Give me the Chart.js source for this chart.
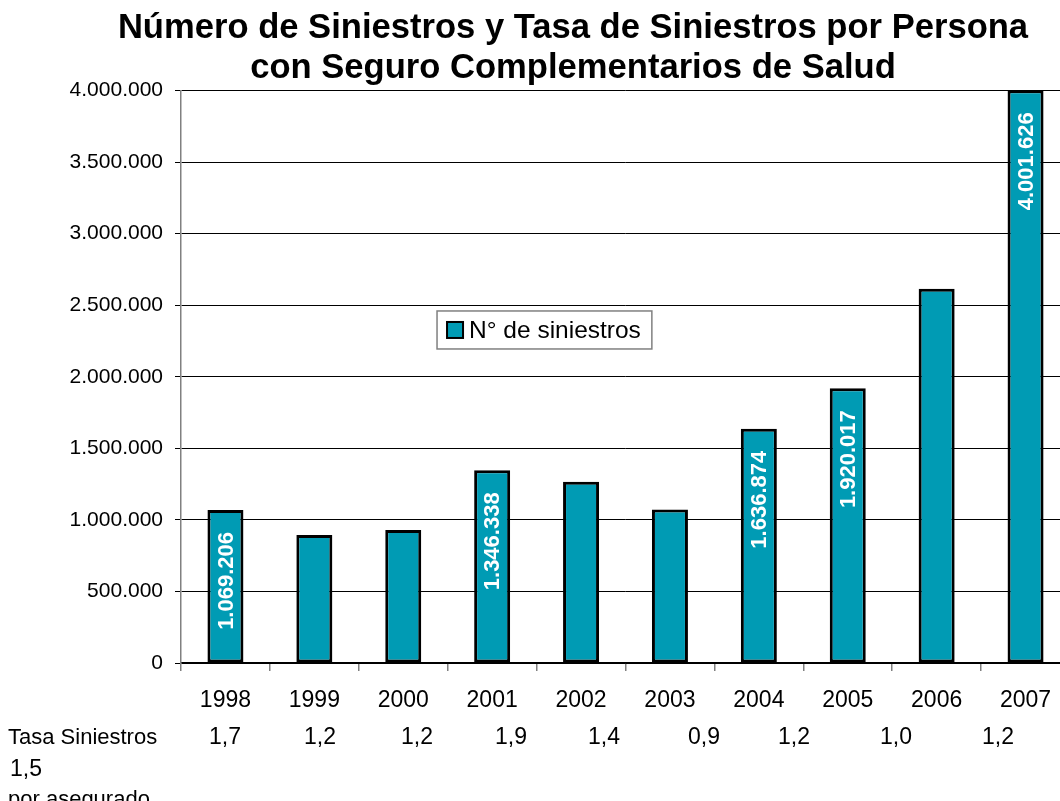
<!DOCTYPE html>
<html>
<head>
<meta charset="utf-8">
<script src="https://cdn.jsdelivr.net/npm/chart.js@4.4.1/dist/chart.umd.min.js"></script>
<style>
  html, body { margin: 0; padding: 0; background: #fff; overflow: hidden; }
  #wrap { position: relative; width: 1136px; height: 801px; }
</style>
</head>
<body>
<div id="wrap"><canvas id="c" width="1136" height="801"></canvas></div>
<script>
// ---- data ----
const years = ['1998','1999','2000','2001','2002','2003','2004','2005','2006','2007'];
const siniestros = [1069206, 895000, 930000, 1346338, 1266000, 1072000, 1636874, 1920017, 2615000, 4001626];
const labeledYears = ['1998','2001','2004','2005','2007'];
const tasaTitle = 'Tasa Siniestros';
const tasaValues = ['1,7','1,2','1,2','1,9','1,4','0,9','1,2','1,0','1,2','1,5'];
const tasaFooter = 'por asegurado';
const yTicks = [0, 500000, 1000000, 1500000, 2000000, 2500000, 3000000, 3500000, 4000000];
const titleLines = ['Número de Siniestros y Tasa de Siniestros por Persona', 'con Seguro Complementarios de Salud'];
const seriesName = 'N° de siniestros';

// ---- layout (text positions) ----
const tasaX = [209, 304, 401, 495, 588, 688, 778, 880, 982];
const TITLE_CX = 573;

const FONT = "'Liberation Sans', Arial, Helvetica, sans-serif";
Chart.defaults.font.family = FONT;
Chart.defaults.color = '#000';

function fmt(n) {
  return String(Math.round(n)).replace(/\B(?=(\d{3})+(?!\d))/g, '.');
}

const TEAL = '#009BB4';

const overlay = {
  id: 'overlay',
  afterDatasetsDraw(chart) {
    const ctx = chart.ctx;
    const meta = chart.getDatasetMeta(0);
    const ys = chart.scales.y;
    // title (space reserved by the title plugin)
    const tb = chart.titleBlock;
    ctx.save();
    ctx.fillStyle = '#000';
    ctx.font = 'bold 34.6px ' + FONT;
    ctx.textAlign = 'center';
    ctx.textBaseline = 'middle';
    const lh = 40.5;
    titleLines.forEach((t, i) => ctx.fillText(t, TITLE_CX, tb.top + 6 + lh * i + lh / 2 + 2));
    ctx.restore();

    // bar value labels (rotated, inside end)
    ctx.save();
    ctx.fillStyle = '#fff';
    ctx.font = 'bold 22px ' + FONT;
    ctx.textAlign = 'right';
    ctx.textBaseline = 'middle';
    meta.data.forEach((bar, i) => {
      if (!labeledYears.includes(years[i])) return;
      ctx.save();
      ctx.translate(bar.x, bar.y + 22);
      ctx.rotate(-Math.PI / 2);
      ctx.fillText(fmt(siniestros[i]), 0, 1);
      ctx.restore();
    });
    ctx.restore();

    // legend box
    const ca = chart.chartArea;
    const lx = ca.left + 0.288 * (ca.right - ca.left);
    const ly = ys.getPixelForValue(2460000);
    ctx.save();
    ctx.font = '24.5px ' + FONT;
    const tw = ctx.measureText(seriesName).width;
    const w = tw + 43, h = 38;
    ctx.fillStyle = '#fff';
    ctx.fillRect(lx, ly, w, h);
    ctx.strokeStyle = '#808080';
    ctx.lineWidth = 1.5;
    ctx.strokeRect(lx, ly, w, h);
    ctx.fillStyle = TEAL;
    ctx.fillRect(lx + 10, ly + 11, 16, 16);
    ctx.strokeStyle = '#000';
    ctx.lineWidth = 2;
    ctx.strokeRect(lx + 10, ly + 11, 16, 16);
    ctx.fillStyle = '#000';
    ctx.textBaseline = 'middle';
    ctx.textAlign = 'left';
    ctx.fillText(seriesName, lx + 32, ly + h / 2 + 1);
    ctx.restore();

    // tasa row below the chart
    ctx.save();
    ctx.fillStyle = '#000';
    ctx.textBaseline = 'alphabetic';
    ctx.textAlign = 'left';
    ctx.font = '22px ' + FONT;
    ctx.fillText(tasaTitle, 8, 744);
    ctx.font = '23px ' + FONT;
    tasaX.forEach((x, i) => ctx.fillText(tasaValues[i], x, 744));
    ctx.fillText(tasaValues[9], 10, 776);
    ctx.font = '22px ' + FONT;
    ctx.fillText(tasaFooter, 8, 806);
    ctx.restore();
  }
};

new Chart(document.getElementById('c'), {
  type: 'bar',
  data: {
    labels: years,
    datasets: [{
      label: seriesName,
      data: siniestros,
      backgroundColor: TEAL,
      borderColor: '#000',
      borderWidth: 3,
      borderSkipped: false,
      categoryPercentage: 1,
      barPercentage: 0.405
    }]
  },
  options: {
    responsive: false,
    animation: false,
    layout: { padding: { left: 0, right: 66, top: 0, bottom: 0 } },
    plugins: {
      legend: { display: false },
      tooltip: { enabled: false },
      title: {
        display: true,
        text: titleLines,
        color: 'rgba(0,0,0,0)',
        font: { size: 34, weight: 'bold', family: FONT, lineHeight: 1.2 },
        padding: { top: 6, bottom: 3 }
      }
    },
    scales: {
      x: {
        grid: { drawOnChartArea: false, offset: true, tickLength: 8, color: '#808080', lineWidth: 1.5 },
        border: { color: '#000', width: 1.5 },
        ticks: { font: { size: 23 }, padding: 16, color: '#000', maxRotation: 0 },
        afterFit(s) { s.height = 138; }
      },
      y: {
        min: 0,
        max: 4000000,
        afterBuildTicks(s) { s.ticks = yTicks.map(v => ({ value: v })); },
        grid: { color: '#000', lineWidth: 1, tickLength: 6, tickColor: '#000' },
        border: { color: '#808080', width: 1.5 },
        ticks: { font: { size: 21 }, padding: 12, color: '#000', callback: v => fmt(v) },
        afterFit(s) { s.width = 181; }
      }
    }
  },
  plugins: [overlay]
});
</script>
</body>
</html>
